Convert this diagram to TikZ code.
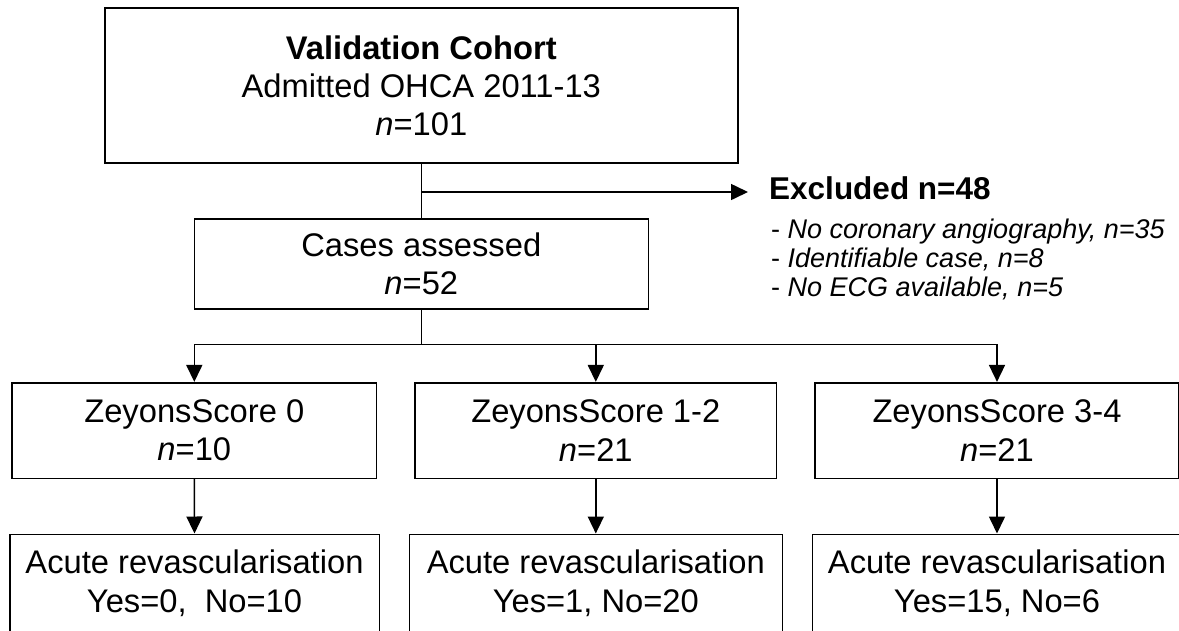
\documentclass[tikz,border=0pt]{standalone}
\usepackage{fontspec}
\setmainfont{Liberation Sans}
\usetikzlibrary{arrows.meta}

\tikzset{
  flowbox/.style={draw, line width=1.6pt, inner sep=0pt, align=center,
    font=\fontsize{32.7}{38.3}\selectfont},
  flowline/.style={line width=1.6pt},
  flowarrow/.style={line width=1.6pt, -{Triangle[length=17pt,width=16pt]}},
  exhead/.style={anchor=base west, inner sep=0pt, font=\fontsize{31.5}{36}\selectfont\bfseries},
  exitem/.style={anchor=base west, inner sep=0pt, font=\fontsize{27}{30}\selectfont},
}

\begin{document}
\begin{tikzpicture}[x=1pt, y=-1pt]
  \useasboundingbox (0,0) rectangle (1179,630);
  \clip (0,0) rectangle (1179,630);

  % main column
  \node[flowbox, minimum width=633pt, minimum height=155pt] (top) at (421.3,85.7)
    {\textbf{Validation Cohort}\\Admitted OHCA 2011-13\\\textit{n}=101};
  \node[flowbox, minimum width=454pt, minimum height=89.5pt] (cases) at (421.3,264)
    {Cases assessed\\\textit{n}=52};

  % score groups
  \node[flowbox, minimum width=364.7pt, minimum height=95.6pt] (z0) at (194.3,430.5)
    {ZeyonsScore 0\\\textit{n}=10};
  \node[flowbox, minimum width=361.7pt, minimum height=95.6pt] (z1) at (595.8,430.5)
    {ZeyonsScore 1-2\\\textit{n}=21};
  \node[flowbox, minimum width=364pt, minimum height=95.6pt] (z2) at (997,430.5)
    {ZeyonsScore 3-4\\\textit{n}=21};

  % outcomes
  \node[flowbox, minimum width=369.6pt, minimum height=98pt] (a0) at (194.5,583.3)
    {Acute revascularisation\\Yes=0,\ \ No=10};
  \node[flowbox, minimum width=373pt, minimum height=98pt] (a1) at (595.8,583.3)
    {Acute revascularisation\\Yes=1, No=20};
  \node[flowbox, minimum width=369.4pt, minimum height=98pt] (a2) at (997,583.3)
    {Acute revascularisation\\Yes=15, No=6};

  % exclusions
  \coordinate (extip) at (748,192);
  \node[exhead] (exh) at (769,199.5) {Excluded n=48};
  \node[exitem] (ex1) at (771,238) {- \textit{No coronary angiography, n=35}};
  \node[exitem] (ex2) at (771,267) {- \textit{Identifiable case, n=8}};
  \node[exitem] (ex3) at (771,296) {- \textit{No ECG available, n=5}};

  % connectors
  \draw[flowline] (top.south) -- (cases.north);
  \draw[flowarrow] (top.south |- extip) -- (extip);

  \coordinate (split) at (421.3,344.3);
  \draw[flowline] (cases.south) -- (split);
  \draw[flowline] (z0.north |- split) -- (z2.north |- split);
  \draw[flowarrow] (z0.north |- split) -- (z0.north);
  \draw[flowarrow] (z1.north |- split) -- (z1.north);
  \draw[flowarrow] (z2.north |- split) -- (z2.north);

  \draw[flowarrow] (z0.south) -- (a0.north);
  \draw[flowarrow] (z1.south) -- (a1.north);
  \draw[flowarrow] (z2.south) -- (a2.north);
\end{tikzpicture}
\end{document}
